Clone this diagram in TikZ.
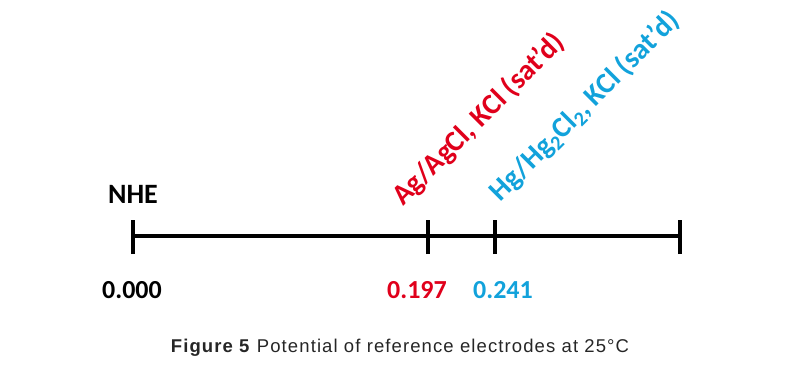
\documentclass[tikz,border=0pt]{standalone}
\usepackage{fontspec}
\setmainfont{Carlito}
\newfontfamily\capfont[LetterSpace=6]{Liberation Sans}
\definecolor{agred}{HTML}{E0001B}
\definecolor{hgblue}{HTML}{12A2DB}
\definecolor{capgray}{HTML}{262626}
\begin{document}
\begin{tikzpicture}[x=1pt,y=-1pt,
  axis/.style={line width=4pt,black},
  tick/.style={line width=4pt,black},
  lbl/.style={font=\fontsize{28}{30}\selectfont\bfseries,inner sep=0pt},
  rlbl/.style={font=\fontsize{29}{30}\selectfont\bfseries,inner sep=0pt,anchor=base west,rotate=45},
  num/.style={font=\fontsize{26}{30}\selectfont\bfseries,inner sep=0pt}]
\useasboundingbox (0,0) rectangle (800,374);
\coordinate (a0) at (133,236);
\coordinate (a1) at (428,236);
\coordinate (a2) at (495,236);
\coordinate (a3) at (680,236);
\draw[axis] (a0) -- (a3);
\foreach \c in {a0,a1,a2,a3}{
  \draw[tick] ([yshift=-18pt]\c) -- ([yshift=16pt]\c);
}
\node[lbl,anchor=base] (nhe) at (133,204) {NHE};
\node[num,anchor=base] (v0) at (132,298) {0.000};
\node[num,anchor=base,text=agred] (v1) at (417,298) {0.197};
\node[num,anchor=base,text=hgblue] (v2) at (503,298) {0.241};
\node[rlbl,text=agred] (ag) at (403,207) {Ag/AgCl, KCl (sat’d)};
\node[rlbl,text=hgblue] (hg) at (500,203) {Hg/Hg\textsubscript{2}Cl\textsubscript{2}, KCl (sat’d)};
\node[anchor=base,inner sep=0pt,text=capgray,font=\fontsize{18.5}{20}\selectfont\capfont] (cap) at (400,352) {\textbf{Figure 5} Potential of reference electrodes at 25°C};
\end{tikzpicture}
\end{document}
